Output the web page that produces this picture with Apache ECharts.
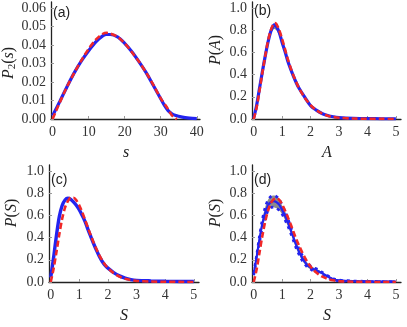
<!DOCTYPE html>
<html>
<head>
<meta charset="utf-8">
<script src="https://cdn.jsdelivr.net/npm/echarts@6/dist/echarts.min.js"></script>
<style>
  html, body { margin: 0; padding: 0; background: #fff; }
  #main { width: 407px; height: 327px; }
</style>
</head>
<body>
<div id="main"></div>
<script>
// panel (a): P2(s)
var aBlueX = [0, 2, 4, 6, 8, 10, 12, 14, 15, 16, 18, 20, 22, 24, 26, 28, 30, 31, 32, 33, 34, 36, 38, 40];
var aBlue = [0.0018, 0.0095, 0.0175, 0.025, 0.0315, 0.037, 0.0418, 0.0452, 0.0458, 0.0458, 0.0445, 0.041, 0.0365, 0.031, 0.025, 0.018, 0.011, 0.0075, 0.0047, 0.003, 0.002, 0.001, 0.0005, 0.0002];
var aRedX = [0, 1, 2, 4, 6, 8, 10, 12, 14, 15, 16, 18, 20, 22, 24, 26, 28, 30, 32, 33, 34, 34.5];
var aRed = [0, 0.0045, 0.009, 0.0175, 0.025, 0.0318, 0.038, 0.043, 0.0462, 0.0467, 0.0463, 0.0445, 0.041, 0.0362, 0.031, 0.025, 0.0183, 0.0112, 0.0055, 0.0022, 0.0005, 0];

// panel (b): P(A)
var bX = [0, 0.1, 0.2, 0.3, 0.4, 0.5, 0.6, 0.7, 0.75, 0.8, 0.9, 1.0, 1.1, 1.2, 1.3, 1.4, 1.5, 1.6, 1.8, 2.0, 2.2, 2.4, 2.6, 2.8, 3.0, 3.5, 4, 4.5, 5];
var bBlue = [0.01, 0.12, 0.27, 0.42, 0.56, 0.69, 0.79, 0.845, 0.85, 0.835, 0.78, 0.69, 0.61, 0.52, 0.45, 0.385, 0.325, 0.275, 0.195, 0.12, 0.08, 0.05, 0.032, 0.02, 0.013, 0.006, 0.004, 0.002, 0.001];
var bRed = [0, 0.1, 0.25, 0.41, 0.56, 0.7, 0.8, 0.86, 0.865, 0.855, 0.8, 0.72, 0.63, 0.54, 0.46, 0.39, 0.33, 0.275, 0.19, 0.125, 0.08, 0.05, 0.03, 0.018, 0.011, 0.004, 0.002, 0.001, 0];
var bBandX = [0.55, 0.6, 0.7, 0.8, 0.9];
var bBandLow = [0.74, 0.77, 0.81, 0.8, 0.75];
var bBandHigh = [0.77, 0.8, 0.86, 0.85, 0.79];

// panel (c): P(S)
var cX = [0, 0.1, 0.2, 0.3, 0.4, 0.5, 0.6, 0.7, 0.8, 0.9, 1.0, 1.1, 1.2, 1.3, 1.4, 1.5, 1.6, 1.7, 1.8, 1.9, 2.0, 2.2, 2.4, 2.6, 2.8, 3.0, 3.5, 4, 4.5, 5];
var cBlue = [0.04, 0.22, 0.42, 0.59, 0.69, 0.74, 0.755, 0.745, 0.72, 0.69, 0.65, 0.6, 0.545, 0.475, 0.41, 0.345, 0.285, 0.23, 0.185, 0.15, 0.125, 0.085, 0.055, 0.035, 0.022, 0.015, 0.01, 0.007, 0.005, 0.004];
var cRed = [0, 0.12, 0.27, 0.43, 0.57, 0.67, 0.73, 0.76, 0.76, 0.735, 0.69, 0.63, 0.56, 0.49, 0.42, 0.355, 0.295, 0.24, 0.195, 0.155, 0.125, 0.08, 0.05, 0.03, 0.018, 0.01, 0.004, 0.002, 0.001, 0];

// panel (d): P(S)
var dX = [0, 0.1, 0.2, 0.3, 0.4, 0.5, 0.6, 0.7, 0.8, 0.9, 1.0, 1.1, 1.2, 1.3, 1.4, 1.5, 1.6, 1.7, 1.8, 1.9, 2.0, 2.1, 2.2, 2.4, 2.6, 2.8, 3.0, 3.5, 4, 4.5, 5];
var dBlue = [0.07, 0.22, 0.38, 0.52, 0.62, 0.69, 0.72, 0.73, 0.72, 0.695, 0.65, 0.6, 0.54, 0.47, 0.4, 0.33, 0.27, 0.22, 0.18, 0.15, 0.13, 0.115, 0.105, 0.08, 0.05, 0.025, 0.014, 0.007, 0.005, 0.004, 0.003];
var dHigh = [0.08, 0.24, 0.41, 0.56, 0.67, 0.74, 0.77, 0.78, 0.77, 0.745, 0.69, 0.64, 0.575, 0.5, 0.43, 0.36, 0.295, 0.245, 0.2, 0.17, 0.145, 0.13, 0.12, 0.09, 0.058, 0.03, 0.018, 0.009, 0.007, 0.005, 0.004];
var dLow = [0.06, 0.2, 0.35, 0.48, 0.57, 0.64, 0.67, 0.675, 0.665, 0.645, 0.61, 0.56, 0.505, 0.44, 0.37, 0.3, 0.245, 0.195, 0.16, 0.13, 0.115, 0.1, 0.09, 0.07, 0.042, 0.02, 0.01, 0.005, 0.003, 0.003, 0.002];
var dRed = [0, 0.11, 0.26, 0.41, 0.54, 0.64, 0.71, 0.745, 0.755, 0.74, 0.7, 0.645, 0.585, 0.52, 0.45, 0.385, 0.325, 0.27, 0.22, 0.175, 0.14, 0.11, 0.085, 0.05, 0.028, 0.015, 0.008, 0.002, 0.001, 0, 0];

var xTicksA = [0, 10, 20, 30, 40];
var yTicksA = [0, 0.01, 0.02, 0.03, 0.04, 0.05, 0.06];
var xTicks = [0, 1, 2, 3, 4, 5];
var yTicks = [0, 0.2, 0.4, 0.6, 0.8, 1.0];

var BLUE = '#2323f0';
var RED = '#f02828';
var serif = 'Liberation Serif';

function zip(xs, ys) {
    var out = [];
    for (var i = 0; i < xs.length; i++) out.push([xs[i], ys[i]]);
    return out;
}

var grids = [
    { left: 51, top: 2, width: 149, height: 117 },
    { left: 252, top: 2, width: 149, height: 117 },
    { left: 49, top: 165, width: 150, height: 117 },
    { left: 252, top: 165, width: 149, height: 117 }
];

function xAxis(i, min, max, ticks) {
    return {
        type: 'value', gridIndex: i, min: min, max: max,
        axisLine: { onZero: false, lineStyle: { color: '#222', width: 1.3 } },
        axisTick: { inside: true, length: 3, customValues: ticks, lineStyle: { color: '#999' } },
        axisLabel: { customValues: ticks, margin: 6, fontFamily: serif, fontSize: 14, color: '#333' },
        splitLine: { show: false }
    };
}
function yAxis(i, max, ticks, digits) {
    return {
        type: 'value', gridIndex: i, min: 0, max: max,
        axisLine: { show: true, onZero: false, lineStyle: { color: '#222', width: 1.3 } },
        axisTick: { show: true, inside: true, length: 3, customValues: ticks, lineStyle: { color: '#999' } },
        axisLabel: {
            customValues: ticks, margin: 5, fontFamily: serif, fontSize: 14, color: '#333',
            formatter: function (v) { return v.toFixed(digits); }
        },
        splitLine: { show: false }
    };
}

function blueLine(i, data, w) {
    return { type: 'line', xAxisIndex: i, yAxisIndex: i, data: data, showSymbol: false, smooth: 0.3,
        lineStyle: { color: BLUE, width: w || 3 }, z: 3 };
}
function blueDots(i, data) {
    return { type: 'line', xAxisIndex: i, yAxisIndex: i, data: data, showSymbol: false, smooth: 0.3,
        lineStyle: { color: BLUE, width: 2.6, type: [3, 4] }, z: 3 };
}
function redLine(i, data) {
    return { type: 'line', xAxisIndex: i, yAxisIndex: i, data: data, showSymbol: false, smooth: 0.3,
        lineStyle: { color: RED, width: 2.6, type: [6, 3] }, z: 4 };
}
// gray error band drawn as one polygon through the axis scales
function band(i, xs, lo, hi) {
    return {
        type: 'custom', xAxisIndex: i, yAxisIndex: i, data: [[xs[0], lo[0]]], z: 2, clip: true,
        renderItem: function (params, api) {
            var pts = [];
            for (var k = 0; k < xs.length; k++) pts.push(api.coord([xs[k], hi[k]]));
            for (var k = xs.length - 1; k >= 0; k--) pts.push(api.coord([xs[k], lo[k]]));
            return { type: 'polygon', shape: { points: pts, smooth: 0.3 }, style: { fill: '#8c8c8c' } };
        }
    };
}

function yTitle(x, y, sub, arg) {
    var t = '{i|P}' + (sub ? '{s|' + sub + '}' : '') + '{n|(}{i|' + arg + '}{n|)}';
    return {
        type: 'text', x: x, y: y, rotation: Math.PI / 2,
        style: {
            text: t, align: 'center', verticalAlign: 'middle',
            rich: {
                i: { fontFamily: serif, fontStyle: 'italic', fontSize: 16, fill: '#222', lineHeight: 18 },
                n: { fontFamily: serif, fontSize: 16, fill: '#222', lineHeight: 18 },
                s: { fontFamily: serif, fontSize: 11, fill: '#222', lineHeight: 18, verticalAlign: 'bottom', padding: [6, 0, 0, 0] }
            }
        }
    };
}
function xTitle(x, y, t) {
    return { type: 'text', x: x, y: y,
        style: { text: t, align: 'center', verticalAlign: 'middle', fontFamily: serif, fontStyle: 'italic', fontSize: 16, fill: '#222' } };
}
function tag(x, y, t) {
    return { type: 'text', x: x, y: y,
        style: { text: t, align: 'left', verticalAlign: 'middle', fontFamily: 'Liberation Sans', fontSize: 14, fill: '#222' } };
}

var series = [];
series.push(blueLine(0, zip(aBlueX, aBlue), 3.2));
series.push(redLine(0, zip(aRedX, aRed)));

series.push(band(1, bBandX, bBandLow, bBandHigh));
series.push(blueLine(1, zip(bX, bBlue), 3.2));
series.push(redLine(1, zip(bX, bRed)));

series.push(blueLine(2, zip(cX, cBlue), 3.4));
series.push(redLine(2, zip(cX, cRed)));

series.push(band(3, dX, dLow, dHigh));
series.push(blueLine(3, zip(dX, dBlue), 2.2));
series.push(blueDots(3, zip(dX, dHigh)));
series.push(blueDots(3, zip(dX, dLow)));
series.push(redLine(3, zip(dX, dRed)));

var chart = echarts.init(document.getElementById('main'), null, { renderer: 'canvas' });
chart.setOption({
    animation: false,
    grid: grids,
    xAxis: [
        xAxis(0, -0.44, 40.9, xTicksA),
        xAxis(1, -0.06, 5.18, xTicks),
        xAxis(2, -0.06, 5.18, xTicks),
        xAxis(3, -0.06, 5.18, xTicks)
    ],
    yAxis: [
        yAxis(0, 0.0634, yTicksA, 2),
        yAxis(1, 1.055, yTicks, 1),
        yAxis(2, 1.055, yTicks, 1),
        yAxis(3, 1.055, yTicks, 1)
    ],
    series: series,
    graphic: [
        yTitle(9, 63, '2', 's'),
        yTitle(216, 50, '', 'A'),
        yTitle(12, 213, '', 'S'),
        yTitle(216, 213, '', 'S'),
        xTitle(126, 153, 's'),
        xTitle(327, 153, 'A'),
        xTitle(124, 316, 'S'),
        xTitle(327, 316, 'S'),
        tag(53, 13, '(a)'),
        tag(254, 11, '(b)'),
        tag(51, 180, '(c)'),
        tag(254, 180, '(d)')
    ]
});
</script>
</body>
</html>
